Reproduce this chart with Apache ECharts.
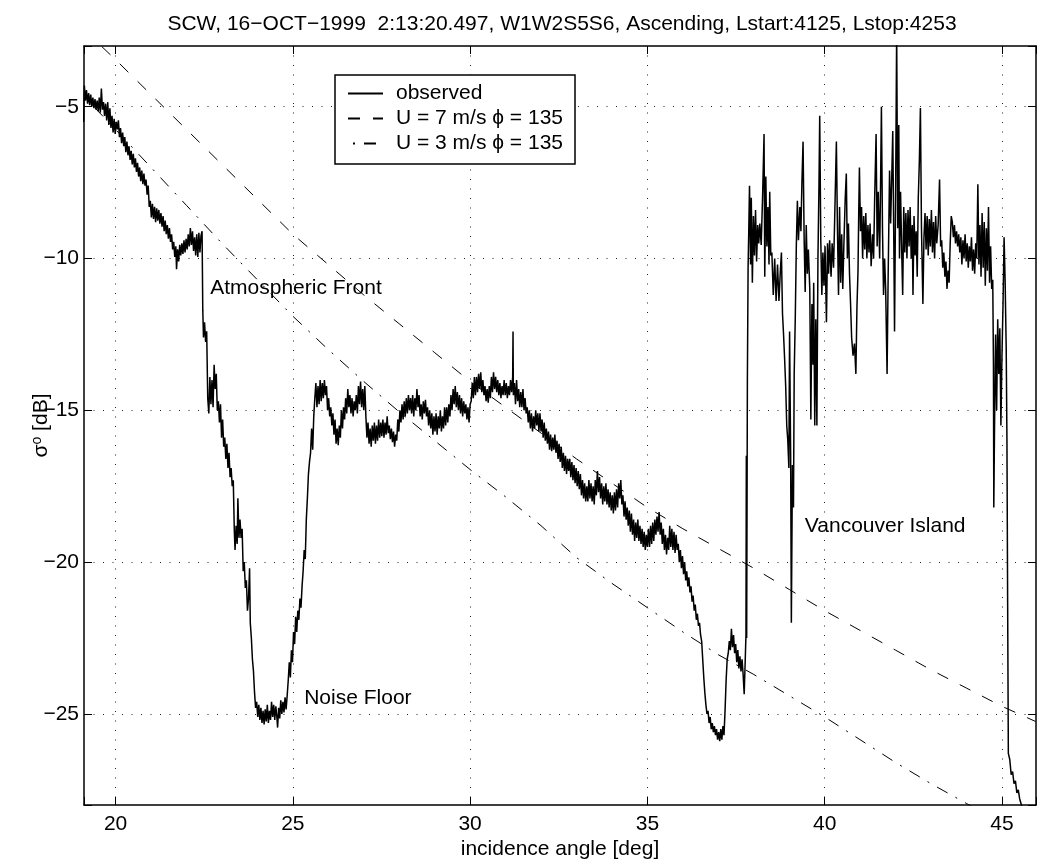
<!DOCTYPE html>
<html>
<head>
<meta charset="utf-8">
<script src="https://cdn.jsdelivr.net/npm/echarts/dist/echarts.min.js"></script>
<style>
  html, body { margin: 0; padding: 0; background: #fff; }
  #chart { width: 1039px; height: 865px; }
</style>
</head>
<body>
<div id="chart"></div>
<script>
// model curves (incidence angle [deg], sigma0 [dB])
const modelAngle7 = [19.1, 20, 21, 22, 23, 24, 25, 26, 27, 28, 29, 30, 31, 32, 33, 34, 35, 36, 37, 38, 39, 40, 41, 42, 43, 44, 45, 45.95];
const wind7 = [-2.45, -3.45, -4.6, -5.75, -6.9, -8.05, -9.2, -10.2, -11.2, -12.15, -13.1, -14.05, -14.9, -15.75, -16.6, -17.4, -18.2, -18.9, -19.55, -20.2, -20.9, -21.6, -22.25, -22.9, -23.55, -24.15, -24.75, -25.25];
const modelAngle3 = [19.1, 20, 21, 22, 23, 24, 25, 26, 27, 28, 29, 30, 31, 32, 33, 34, 35, 36, 37, 38, 39, 40, 41, 42, 43, 44, 45];
const wind3 = [-4.65, -5.75, -7.0, -8.25, -9.5, -10.7, -11.9, -13.0, -14.05, -15.05, -16.0, -16.95, -17.85, -18.8, -19.85, -20.7, -21.5, -22.3, -23.05, -23.7, -24.4, -25.1, -25.85, -26.6, -27.3, -27.95, -28.6];

// observed sigma0, [angle, dB]
const obsFront = [[19.10,-5.5],[19.12,-4.3],[19.15,-4.8],[19.18,-4.45],[19.21,-4.9],[19.24,-4.55],[19.27,-4.95],[19.30,-4.6],[19.33,-5.0],[19.36,-4.7],[19.39,-5.05],[19.42,-4.75],[19.45,-5.1],[19.48,-4.8],[19.51,-5.15],[19.54,-4.7],[19.57,-5.2],[19.60,-4.4],[19.63,-5.1],[19.66,-4.85],[19.69,-5.3],[19.72,-4.9],[19.75,-5.45],[19.78,-4.85],[19.81,-5.6],[19.84,-5.05],[19.87,-5.7],[19.90,-5.3],[19.93,-5.85],[19.96,-5.4],[19.99,-5.9],[20.02,-5.5],
  [20.05,-5.75],[20.08,-5.45],[20.11,-6.0],[20.14,-5.7],[20.17,-6.2],[20.20,-5.85],[20.23,-6.3],[20.26,-6.0],[20.29,-6.5],[20.32,-6.15],[20.35,-6.6],[20.38,-6.3],[20.41,-6.75],[20.44,-6.45],[20.47,-6.9],[20.50,-6.55],[20.53,-7.0],[20.56,-6.7],[20.59,-7.15],[20.62,-6.85],[20.65,-7.3],[20.68,-7.0],[20.71,-7.45],[20.74,-7.1],[20.77,-7.55],[20.80,-7.2],[20.83,-7.6],[20.86,-7.4],[20.89,-7.9],[20.92,-7.6],[20.95,-8.3],[20.98,-8.1],[21.01,-8.65],[21.04,-8.2],[21.07,-8.7],[21.10,-8.3],[21.13,-8.8],[21.16,-8.35],[21.19,-8.75],[21.22,-8.4],[21.25,-8.85],[21.28,-8.5],[21.31,-8.95],[21.34,-8.6],[21.37,-9.1],[21.40,-8.75],[21.43,-9.2],[21.46,-8.9],[21.49,-9.35],[21.52,-9.0],[21.55,-9.45],[21.58,-9.2],[21.61,-9.7],[21.64,-9.45],[21.67,-9.95],[21.70,-9.6],[21.72,-10.35],[21.75,-9.7],[21.78,-10.1],[21.81,-9.55],[21.84,-9.9],[21.87,-9.5],[21.90,-9.85],[21.93,-9.4],[21.96,-9.8],[21.99,-9.35],[22.02,-9.7],[22.05,-9.2],[22.08,-9.6],[22.11,-9.0],[22.14,-9.55],[22.17,-9.1],[22.20,-9.75],[22.23,-9.3],[22.26,-9.9],[22.29,-9.2],[22.32,-9.95],[22.35,-9.15],[22.38,-9.8],[22.41,-9.25],[22.44,-9.1]];

const obsNoise = [[22.46,-11.7],[22.48,-12.6],[22.51,-12.1],[22.54,-12.75],[22.57,-12.4],[22.60,-14.6],[22.63,-15.1],[22.66,-13.9],[22.69,-14.8],[22.72,-14.0],[22.75,-14.9],[22.78,-13.5],[22.81,-14.3],[22.84,-13.8],[22.87,-15.0],[22.90,-14.7],[22.93,-15.4],[22.96,-14.8],[22.99,-15.9],[23.02,-15.3],[23.05,-16.2],[23.08,-15.9],[23.11,-16.6],[23.14,-16.1],[23.17,-16.9],[23.20,-16.4],[23.23,-17.2],[23.26,-16.9],[23.29,-17.5],[23.32,-17.3],[23.35,-19.0],[23.37,-19.6],[23.40,-18.8],[23.43,-19.4],[23.45,-17.9],[23.48,-19.2],[23.51,-18.6],[23.54,-19.2],[23.57,-18.9],[23.60,-20.3],[23.63,-20.0],[23.66,-20.85],[23.69,-20.6],[23.72,-21.6],[23.75,-21.2],[23.78,-20.2],[23.80,-22.0],[23.83,-22.5],[23.86,-23.2],[23.89,-23.6],[23.92,-24.3],[23.95,-24.8],[23.98,-24.6],[24.01,-25.1],[24.04,-24.7],[24.07,-25.2],[24.10,-24.8],[24.13,-25.3],[24.16,-24.9],[24.19,-25.35],[24.22,-24.85],[24.25,-25.25],[24.28,-24.7],[24.31,-25.3],[24.34,-24.9],[24.37,-25.2],[24.40,-24.6],[24.43,-25.1],[24.46,-24.7],[24.49,-25.2],[24.52,-24.75],[24.55,-25.1],[24.57,-25.45],[24.60,-24.8],[24.63,-25.15],[24.66,-24.55],[24.69,-25.0],[24.72,-24.6],[24.75,-24.95],[24.78,-24.45],[24.81,-24.85],[24.84,-24.4],[24.87,-23.9],[24.90,-23.3],[24.93,-23.8],[24.96,-22.9],[24.99,-23.3],[25.02,-22.3],[25.05,-22.7],[25.08,-21.8],[25.11,-22.3],[25.14,-21.6],[25.17,-21.9],[25.20,-21.2],[25.23,-21.5],[25.26,-20.8],[25.29,-20.3],[25.32,-19.6],[25.35,-19.9],[25.38,-18.6],[25.41,-17.9],[25.44,-17.1],[25.47,-16.7],[25.50,-16.4],[25.53,-15.6],[25.56,-16.3],[25.59,-15.2]];

const obsPlateau = [[25.62,-14.6],[25.65,-14.1],[25.68,-14.9],[25.71,-14.2],[25.74,-14.8],[25.77,-14.0],[25.80,-14.7],[25.83,-14.1],[25.86,-14.6],[25.89,-14.0],[25.92,-14.5],[25.95,-14.2],[25.98,-15.0],[26.01,-14.6],[26.04,-15.2],[26.07,-14.9],[26.10,-15.5],[26.13,-15.1],[26.16,-15.8],[26.19,-15.3],[26.22,-16.1],[26.25,-15.6],[26.28,-16.15],[26.31,-15.5],[26.34,-15.9],[26.37,-15.0],[26.40,-15.6],[26.43,-14.9],[26.46,-15.3],[26.49,-14.6],[26.52,-15.1],[26.55,-14.3],[26.58,-14.9],[26.61,-14.5],[26.64,-15.1],[26.67,-14.6],[26.70,-15.2],[26.73,-14.7],[26.76,-15.0],[26.79,-14.5],[26.82,-15.1],[26.85,-14.2],[26.88,-14.8],[26.91,-14.05],[26.94,-14.9],[26.97,-14.3],[27.00,-15.0],[27.03,-14.2],[27.06,-15.2],[27.09,-15.9],[27.12,-15.4],[27.15,-16.1],[27.18,-15.6],[27.21,-16.2],[27.24,-15.5],[27.27,-16.0],[27.30,-15.4],[27.33,-16.1],[27.36,-15.5],[27.39,-16.0],[27.42,-15.3],[27.45,-15.9],[27.48,-15.4],[27.51,-15.85],[27.54,-15.3],[27.57,-15.9],[27.60,-15.4],[27.63,-15.8],[27.66,-15.2],[27.69,-15.75],[27.72,-15.5],[27.75,-15.95],[27.78,-15.6],[27.81,-16.05],[27.84,-15.7],[27.87,-16.2],[27.90,-15.8],[27.93,-16.0],[27.96,-15.3],[27.99,-15.7],[28.02,-15.0],[28.05,-15.4],[28.08,-14.8],[28.11,-15.3],[28.14,-14.7],[28.17,-15.2],[28.20,-14.6],[28.23,-15.1],[28.26,-14.5],[28.29,-15.0],[28.32,-14.6],[28.35,-15.1],[28.38,-14.5],[28.41,-15.2],[28.44,-14.6],[28.47,-15.0],[28.50,-14.3],[28.53,-14.9],[28.56,-14.5],[28.59,-15.2],[28.62,-14.8],[28.65,-15.3],[28.68,-14.7],[28.71,-15.1],[28.74,-14.65],[28.77,-15.2],[28.80,-14.9],[28.83,-15.5],[28.86,-15.0],[28.89,-15.6],[28.92,-15.1],[28.95,-15.8],
  [28.98,-15.2],[29.01,-15.7],[29.04,-15.1],[29.07,-15.8],[29.10,-15.2],[29.13,-15.6],[29.16,-15.0],[29.19,-15.7],[29.22,-15.2],[29.25,-15.6],[29.28,-14.9],[29.31,-15.5],[29.34,-14.9],[29.37,-15.4],[29.40,-14.8],[29.43,-15.2],[29.46,-14.5],[29.49,-15.0],[29.52,-14.3],[29.55,-14.8],[29.58,-14.2],[29.61,-14.9],[29.64,-14.4],[29.67,-15.0],[29.70,-14.5],[29.73,-15.1],[29.76,-14.6],[29.79,-15.2],[29.82,-14.7],[29.85,-15.1],[29.88,-14.8],[29.91,-15.3],[29.94,-14.9],[29.97,-15.4],[30.00,-14.8],[30.03,-14.7],[30.06,-14.1],[30.09,-14.6],[30.12,-13.9],[30.15,-14.5],[30.18,-13.9],[30.21,-14.4],[30.24,-13.8],[30.27,-14.3],[30.30,-13.75],[30.33,-14.4],[30.36,-14.0],[30.39,-14.5],[30.42,-14.2],[30.45,-14.7],[30.48,-14.3],[30.51,-14.75],[30.54,-14.2],[30.57,-14.6],[30.60,-13.9],[30.63,-14.4],[30.66,-13.75],[30.69,-14.3],[30.72,-13.9],[30.75,-14.4],[30.78,-14.0],[30.81,-14.5],[30.84,-14.1],[30.87,-14.6],[30.90,-14.2],[30.93,-14.5],[30.96,-14.0],[30.99,-14.5],[31.02,-14.1],[31.05,-14.6],[31.08,-14.2],[31.11,-14.5],[31.14,-14.0],[31.17,-14.4],[31.20,-13.9],[31.21,-12.4],[31.22,-14.5],[31.25,-14.1],[31.28,-14.8],[31.31,-14.0],[31.34,-14.7],[31.37,-14.3],[31.40,-14.9],[31.43,-14.4],[31.46,-14.9],[31.49,-14.3],[31.52,-15.0],[31.55,-14.6],[31.58,-15.1],[31.61,-14.9],[31.64,-15.4],[31.67,-15.0],[31.70,-15.6],[31.73,-15.1],[31.76,-15.7],[31.79,-15.2],[31.82,-15.6],[31.85,-15.0],[31.88,-15.5],[31.91,-15.1],[31.94,-15.7],[31.97,-15.1]];

const obsSlope = [[32.00,-15.7],[32.03,-15.3],[32.06,-15.9],[32.09,-15.4],[32.12,-16.0],[32.15,-15.6],[32.18,-16.1],[32.21,-15.7],[32.24,-16.3],[32.27,-15.8],[32.30,-16.35],[32.33,-15.9],[32.36,-16.3],[32.39,-15.8],[32.42,-16.4],[32.45,-16.0],[32.48,-16.6],[32.51,-16.1],[32.54,-16.7],[32.57,-16.2],[32.60,-16.9],[32.63,-16.4],[32.66,-17.0],[32.69,-16.5],[32.72,-17.1],[32.75,-16.6],[32.78,-17.0],[32.81,-16.6],[32.84,-17.2],[32.87,-16.7],[32.90,-17.3],[32.93,-16.8],[32.96,-17.4],[32.99,-16.9],[33.02,-17.5],[33.05,-17.0],[33.08,-17.6],[33.11,-17.1],[33.14,-17.8],[33.17,-17.3],[33.20,-17.9],[33.23,-17.4],[33.26,-18.0],[33.29,-17.5],[33.32,-18.0],[33.35,-17.3],[33.38,-17.9],[33.41,-17.4],[33.44,-18.0],[33.47,-17.5],[33.50,-18.1],[33.53,-17.3],[33.56,-17.8],[33.59,-17.0],[33.62,-17.7],
  [33.65,-17.2],[33.68,-17.9],[33.71,-17.4],[33.74,-18.1],[33.77,-17.5],[33.80,-18.0],[33.83,-17.4],[33.86,-18.1],[33.89,-17.6],[33.92,-18.2],[33.95,-17.7],[33.98,-18.3],[34.01,-17.8],[34.04,-18.4],[34.07,-17.7],[34.10,-18.3],[34.13,-17.6],[34.16,-18.2],[34.19,-17.4],[34.22,-17.9],[34.25,-17.3],[34.28,-18.1],[34.31,-17.8],[34.34,-18.5],[34.37,-18.0],[34.40,-18.6],[34.43,-18.2],[34.46,-18.8],[34.49,-18.3],[34.52,-19.0],[34.55,-18.4],[34.58,-19.1],[34.61,-18.6],[34.64,-19.3],[34.67,-18.7],[34.70,-19.2],[34.73,-18.6],[34.76,-19.3],[34.79,-18.8],[34.82,-19.4],[34.85,-18.9],[34.88,-19.5],[34.91,-19.0],[34.94,-19.6],[34.97,-19.1],[35.00,-19.5],[35.03,-18.9],[35.06,-19.5],[35.09,-18.8],[35.12,-19.4],[35.15,-18.7],[35.18,-19.3],[35.21,-18.6],[35.24,-19.1],[35.27,-18.5],[35.30,-19.0],[35.33,-18.35],[35.36,-19.1],[35.39,-18.7],[35.42,-19.4],[35.45,-18.9],[35.48,-19.6],[35.51,-19.1],[35.54,-19.75],[35.57,-19.2],[35.60,-19.6],[35.63,-18.8],[35.66,-19.5],[35.69,-18.9],[35.72,-19.6],[35.75,-19.0],[35.78,-19.7],[35.81,-19.1],[35.84,-19.6],[35.87,-19.4],[35.90,-20.0],[35.93,-19.6],[35.96,-20.2],[35.99,-19.8],[36.02,-20.4],[36.05,-20.0],[36.08,-20.6],[36.11,-20.3],[36.14,-20.8],[36.17,-20.5],[36.20,-21.0],[36.23,-20.8],[36.26,-21.3],[36.29,-21.1],[36.32,-21.6],[36.35,-21.4],[36.38,-21.9],[36.41,-21.7],[36.44,-22.1],[36.47,-22.0],[36.50,-22.4],[36.53,-22.6],[36.56,-23.2],[36.59,-23.8],[36.62,-24.3],[36.65,-24.7],[36.68,-25.0],[36.71,-24.9],[36.74,-25.3],[36.77,-25.1],[36.80,-25.5],[36.83,-25.3],[36.86,-25.6],[36.89,-25.4],[36.92,-25.7],[36.95,-25.5],[36.98,-25.85],[37.01,-25.6],[37.04,-25.9],[37.07,-25.5],[37.10,-25.85],[37.13,-25.4],[37.16,-25.7],[37.19,-24.9],[37.22,-23.9],[37.25,-23.2],[37.28,-23.0],[37.31,-22.6],[37.34,-22.9],[37.37,-22.2],[37.40,-22.8],[37.43,-22.4],[37.46,-23.0],[37.49,-22.7],[37.52,-23.3],[37.55,-22.9],[37.58,-23.5],[37.61,-23.1],[37.64,-23.6],[37.67,-23.2],[37.70,-23.7],[37.73,-24.35],[37.76,-23.2],[37.78,-22.4],[37.79,-16.5],[37.80,-22.5],[37.82,-14.0],[37.84,-10.3]];

const obsIsland = [[37.86,-9.0],[37.88,-7.6],[37.91,-10.2],[37.93,-8.0],[37.96,-10.8],[37.99,-8.6],[38.02,-9.9],[38.05,-8.4],[38.08,-10.1],[38.11,-8.9],[38.14,-9.5],[38.17,-8.85],[38.21,-9.55],[38.25,-7.9],[38.29,-5.9],[38.31,-10.6],[38.34,-7.3],[38.37,-9.6],[38.40,-8.3],[38.43,-10.2],[38.45,-7.8],[38.48,-9.9],[38.51,-9.8],[38.55,-11.2],[38.59,-10.0],[38.63,-11.4],[38.67,-10.2],[38.71,-11.4],[38.75,-10.4],[38.78,-9.8],[38.81,-11.8],[38.84,-12.5],[38.87,-13.3],[38.90,-14.2],[38.93,-15.5],[38.96,-16.0],[38.99,-16.9],[39.01,-12.4],[39.04,-16.5],[39.06,-22.0],[39.09,-16.8],[39.12,-18.2],[39.14,-13.8],[39.17,-12.0],[39.20,-9.6],[39.23,-8.1],[39.26,-9.4],[39.30,-8.3],[39.33,-9.1],[39.36,-7.4],[39.39,-6.15],[39.42,-9.3],[39.45,-11.1],[39.48,-8.9],[39.51,-10.5],[39.54,-9.7],[39.58,-11.0],[39.61,-15.3],[39.64,-11.5],[39.67,-13.5],[39.69,-10.8],[39.72,-15.5],[39.75,-12.0],[39.78,-15.5],[39.81,-10.0],[39.84,-7.5],[39.86,-5.3],[39.89,-9.4],[39.92,-11.2],[39.95,-9.8],[39.98,-10.9],[40.01,-9.6],[40.05,-12.1],[40.08,-9.5],[40.11,-10.5],[40.14,-9.4],[40.18,-10.6],[40.21,-9.5],[40.25,-10.3],[40.28,-8.8],[40.31,-7.2],[40.33,-6.15],[40.36,-9.0],[40.39,-11.2],[40.42,-8.3],[40.45,-10.8],[40.48,-9.2],[40.51,-11.0],[40.54,-9.6],[40.58,-8.0],[40.61,-7.2],[40.64,-10.0],[40.67,-8.85],[40.70,-10.5],[40.73,-11.5],[40.76,-12.6],[40.80,-13.2],[40.84,-12.8],[40.88,-13.8],[40.91,-11.6],[40.94,-10.4],[40.96,-8.5],[40.98,-7.0],[41.01,-9.1],[41.04,-8.3],[41.07,-10.0],[41.10,-8.6],[41.13,-9.7],[41.16,-8.5],[41.19,-10.0],[41.22,-8.9],[41.25,-9.8],[41.28,-8.85],[41.31,-10.25],[41.35,-9.2],[41.38,-10.0],[41.41,-8.0],[41.45,-5.9],[41.48,-9.6],[41.51,-7.8],[41.55,-10.0],[41.58,-7.2],[41.60,-5.0],[41.63,-9.0],[41.66,-11.2],[41.69,-10.0],[41.72,-11.0],[41.76,-13.8],[41.79,-10.6],[41.83,-7.1],[41.86,-8.85],[41.89,-7.4],[41.92,-5.8],[41.95,-9.5],[41.97,-12.4],[42.00,-8.0],[42.03,-2.5],[42.06,-9.0],[42.09,-5.6],[42.11,-10.0],[42.14,-7.8],[42.17,-9.6],[42.20,-11.2],[42.23,-8.3],[42.26,-9.8],[42.29,-8.5],[42.32,-10.0],[42.35,-8.4],[42.38,-9.6],[42.41,-8.3],[42.44,-10.0],[42.47,-8.9],[42.49,-11.2],[42.52,-8.6],[42.55,-9.9],[42.58,-9.1],[42.61,-10.6],[42.64,-8.0],[42.67,-6.8],[42.70,-5.04],[42.73,-9.0],[42.77,-11.5],[42.80,-9.3],[42.83,-8.5],[42.86,-9.7],[42.89,-8.6],[42.92,-9.9],[42.95,-8.7],[42.98,-9.6],[43.01,-8.4],[43.04,-9.8],[43.07,-8.8],[43.10,-10.0],[43.13,-8.6],[43.16,-9.5],[43.20,-8.9],[43.24,-7.4],[43.27,-9.6],[43.30,-9.4],[43.33,-10.3],[43.36,-9.8],[43.39,-10.6],[43.42,-10.1],[43.45,-11.0],[43.48,-10.4],[43.51,-10.8],[43.54,-9.5],[43.57,-8.6],[43.60,-8.8],[43.63,-9.3],[43.66,-8.9],[43.69,-9.5],[43.72,-9.1],[43.75,-9.6],[43.78,-9.2],[43.81,-9.8],[43.84,-9.3],[43.87,-10.2],[43.90,-9.4],[43.93,-10.0],[43.96,-9.2],[43.99,-10.1],[44.02,-9.5],[44.05,-10.3],[44.08,-9.6],[44.11,-10.1],[44.14,-9.3],[44.17,-10.4],[44.20,-9.7],[44.23,-10.5],[44.26,-9.5],[44.29,-10.0],[44.32,-7.55],[44.35,-10.2],[44.38,-8.9],[44.41,-10.6],[44.44,-8.5],[44.47,-10.3],[44.50,-8.8],[44.53,-10.9],[44.56,-9.0],[44.59,-10.4],[44.62,-8.3],[44.65,-10.8],[44.68,-9.6],[44.71,-11.0],[44.74,-10.7],[44.76,-13.5],[44.77,-18.2],[44.79,-15.6],[44.82,-12.5],[44.85,-15.0],[44.88,-12.0],[44.91,-13.8],[44.94,-12.3],[44.97,-15.5],[45.00,-13.2],[45.03,-11.5],[45.06,-9.3],[45.09,-10.8],[45.12,-13.0],[45.14,-15.9],[45.16,-21.3],[45.18,-26.3],[45.22,-26.5],[45.26,-27.0],[45.30,-26.9],[45.34,-27.3],[45.38,-27.2],[45.42,-27.6],[45.46,-27.5],[45.50,-27.8],[45.55,-28.0],[45.60,-28.3],[45.95,-29.5]];

// text annotations placed in data coordinates
const annoText = ['Atmospheric Front', 'Noise Floor', 'Vancouver Island'];
const annoAngle = [22.67, 25.32, 39.44];
const annoDb = [-10.98, -24.47, -18.83];

const xMin = 19.11, xMax = 45.96;
const yMin = -28, yMax = -3;

const FONT = '"Liberation Sans", Arial, Helvetica, sans-serif';
const FS = 21;
const MINUS = '\u2212';
const PHI = '\u03D5';

const observed = obsFront.concat(obsNoise, obsPlateau, obsSlope, obsIsland);
const u7 = modelAngle7.map((a, i) => [a, wind7[i]]);
const u3 = modelAngle3.map((a, i) => [a, wind3[i]]);
const annos = annoText.map((t, i) => ({ value: [annoAngle[i], annoDb[i]], name: t }));

const isTick = (v) => Math.abs(v - Math.round(v / 5) * 5) < 1e-6;

const chart = echarts.init(document.getElementById('chart'));

const gridDots = { show: true, showMinLine: false, showMaxLine: false, lineStyle: { color: '#222', width: 1, type: [1, 8.5] } };

chart.setOption({
  animation: false,
  backgroundColor: '#fff',
  textStyle: { fontFamily: FONT, color: '#000' },
  title: {
    text: 'SCW, 16' + MINUS + 'OCT' + MINUS + '1999  2:13:20.497, W1W2S5S6, Ascending, Lstart:4125, Lstop:4253',
    left: 557,
    top: 9,
    textAlign: 'center',
    textStyle: { fontFamily: FONT, fontSize: FS, fontWeight: 'normal', color: '#000' }
  },
  legend: {
    data: ['observed', 'U = 7 m/s ' + PHI + ' = 135', 'U = 3 m/s ' + PHI + ' = 135'],
    orient: 'vertical',
    left: 335,
    top: 75,
    padding: [8, 12, 10, 12],
    itemGap: 4,
    itemWidth: 35,
    itemHeight: 14,
    backgroundColor: '#fff',
    borderColor: '#000',
    borderWidth: 1.5,
    borderRadius: 0,
    itemStyle: { opacity: 0 },
    textStyle: { fontFamily: FONT, fontSize: FS, color: '#000', padding: [0, 0, 0, 8] },
    selectedMode: false
  },
  grid: { left: 84, right: 1, top: 46, bottom: 58, show: false },
  xAxis: [{
    type: 'value',
    min: xMin,
    max: xMax,
    minInterval: 5,
    maxInterval: 5,
    position: 'bottom',
    name: 'incidence angle [deg]',
    nameLocation: 'middle',
    nameGap: 34,
    nameMoveOverlap: false,
    nameTextStyle: { fontFamily: FONT, fontSize: FS, color: '#000' },
    axisLine: { show: true, onZero: false, lineStyle: { color: '#000', width: 1.5 } },
    axisTick: { show: true, inside: true, length: 8, lineStyle: { color: '#000' } },
    axisLabel: {
      margin: 9,
      fontFamily: FONT, fontSize: FS, color: '#000',
      formatter: (v) => isTick(v) ? String(Math.round(v)) : ''
    },
    splitLine: gridDots
  }, {
    type: 'value',
    min: xMin,
    max: xMax,
    minInterval: 5,
    maxInterval: 5,
    position: 'top',
    axisLine: { show: true, onZero: false, lineStyle: { color: '#000', width: 1.5 } },
    axisTick: { show: true, inside: true, length: 8, lineStyle: { color: '#000' } },
    axisLabel: { show: false },
    splitLine: { show: false }
  }],
  yAxis: [{
    type: 'value',
    min: yMin,
    max: yMax,
    minInterval: 5,
    maxInterval: 5,
    position: 'left',
    name: '{s|\u03C3}{o|o}{s| [dB]}',
    nameLocation: 'middle',
    nameGap: 32,
    nameMoveOverlap: false,
    nameRotate: 90,
    nameTextStyle: {
      fontFamily: FONT, fontSize: FS, color: '#000',
      rich: {
        s: { fontFamily: FONT, fontSize: FS, color: '#000', lineHeight: 22 },
        o: { fontFamily: FONT, fontSize: 14, color: '#000', verticalAlign: 'top', lineHeight: 22, padding: [0, 0, 8, 0] }
      }
    },
    axisLine: { show: true, onZero: false, lineStyle: { color: '#000', width: 1.5 } },
    axisTick: { show: true, inside: true, length: 8, lineStyle: { color: '#000' } },
    axisLabel: {
      margin: 5,
      fontFamily: FONT, fontSize: FS, color: '#000',
      formatter: (v) => isTick(v) ? (v < 0 ? MINUS + Math.abs(Math.round(v)) : String(Math.round(v))) : ''
    },
    splitLine: gridDots
  }, {
    type: 'value',
    min: yMin,
    max: yMax,
    minInterval: 5,
    maxInterval: 5,
    position: 'right',
    axisLine: { show: true, onZero: false, lineStyle: { color: '#000', width: 1.5 } },
    axisTick: { show: true, inside: true, length: 8, lineStyle: { color: '#000' } },
    axisLabel: { show: false },
    splitLine: { show: false }
  }],
  series: [{
    name: 'observed',
    type: 'line',
    data: observed,
    symbol: 'none',
    showSymbol: false,
    clip: true,
    z: 4,
    lineStyle: { color: '#000', width: 1.5 },
    itemStyle: { color: '#000' }
  }, {
    name: 'U = 7 m/s ' + PHI + ' = 135',
    type: 'line',
    data: u7,
    symbol: 'none',
    showSymbol: false,
    clip: true,
    z: 3,
    lineStyle: { color: '#000', width: 1, type: [12, 13] },
    itemStyle: { color: '#000' }
  }, {
    name: 'U = 3 m/s ' + PHI + ' = 135',
    type: 'line',
    data: u3,
    symbol: 'none',
    showSymbol: false,
    clip: true,
    z: 3,
    lineStyle: { color: '#000', width: 1, type: [12, 9, 2, 9], dashOffset: 16 },
    itemStyle: { color: '#000' }
  }, {
    name: 'annotations',
    type: 'scatter',
    data: annos,
    symbolSize: 0,
    silent: true,
    z: 5,
    itemStyle: { opacity: 1, color: '#000' },
    label: {
      show: true,
      position: 'right',
      distance: 0,
      formatter: (p) => p.name,
      fontFamily: FONT, fontSize: FS, color: '#000', opacity: 1
    }
  }]
});
</script>
</body>
</html>
